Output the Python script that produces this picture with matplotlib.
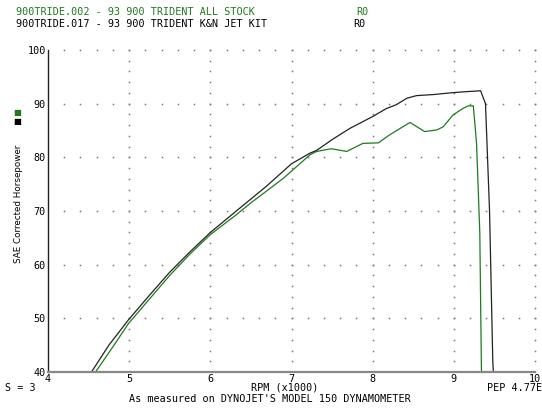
import matplotlib
matplotlib.use("Agg")
import matplotlib.pyplot as plt
import numpy as np

# K&N jet kit run (900TRIDE.017) - black
rpm_kn = [4.54, 4.75, 4.99, 5.25, 5.5, 5.75, 6.0, 6.36, 6.69, 7.0, 7.23,
          7.31, 7.5, 7.72, 8.0, 8.17, 8.29, 8.42, 8.54, 8.75, 8.95, 9.11, 9.33, 9.39, 9.44, 9.48, 9.49]
hp_kn = [40.1, 45.0, 49.7, 54.3, 58.6, 62.4, 66.0, 70.5, 74.6, 78.8, 80.8,
         81.3, 83.3, 85.4, 87.6, 89.1, 89.8, 91.0, 91.5, 91.7, 92.0, 92.2, 92.4, 90.0, 70.0, 42.0, 39.0]

# all stock run (900TRIDE.002) - green
rpm_stock = [4.59, 4.8, 4.99, 5.25, 5.5, 5.75, 6.0, 6.32, 6.49, 6.9, 7.23, 7.31, 7.49, 7.68,
             7.88, 8.07, 8.21, 8.46, 8.64, 8.79, 8.87, 8.99, 9.11, 9.18, 9.24, 9.28, 9.32, 9.34, 9.35]
hp_stock = [40.1, 44.7, 49.0, 53.6, 58.0, 62.0, 65.6, 69.3, 71.4, 76.1, 80.5, 81.1, 81.6, 81.1,
            82.6, 82.7, 84.2, 86.5, 84.8, 85.1, 85.7, 87.9, 89.1, 89.6, 89.6, 82.6, 65.9, 40.4, 39.0]

xticks = [4, 5, 6, 7, 8, 9, 10]
yticks = [40, 50, 60, 70, 80, 90, 100]

GREEN = "#1f7a1f"
mono = "DejaVu Sans Mono"
FS = 7.3

fig = plt.figure(figsize=(5.42, 4.09), dpi=100)
fig.patch.set_facecolor("white")
ax = fig.add_axes([48 / 542, 1 - 372 / 409, 487 / 542, 322 / 409])

# dotted grid (points at intersections only, like the dyno printout)
gx = np.arange(4.2, 10.01, 0.2)
for y in yticks[1:]:
    ax.plot(gx, [y] * len(gx), ls="none", marker="s", ms=1.1, mew=0, color="#777777", clip_on=False)
gy = np.arange(42, 100.1, 2)
for x in xticks[1:]:
    ax.plot([x] * len(gy), gy, ls="none", marker="s", ms=1.1, mew=0, color="#777777", clip_on=False)

ax.plot(rpm_stock, hp_stock, color=GREEN, lw=0.9)
ax.plot(rpm_kn, hp_kn, color="#222222", lw=0.9)

ax.set_xlim(4, 10)
ax.set_ylim(40, 100)
ax.set_xticks(xticks)
ax.set_yticks(yticks)
ax.set_xticklabels([str(t) for t in xticks], fontsize=FS, family=mono)
ax.set_yticklabels([str(t) for t in yticks], fontsize=FS, family=mono)
ax.tick_params(length=0, pad=1.5)
for s in ["top", "right"]:
    ax.spines[s].set_visible(False)
ax.spines["left"].set_color("#222222")
ax.spines["left"].set_linewidth(1.0)
ax.spines["bottom"].set_color("#888888")
ax.spines["bottom"].set_linewidth(1.6)

# header
fig.text(16 / 542, 1 - 12 / 409, "900TRIDE.002 - 93 900 TRIDENT ALL STOCK", color=GREEN,
         fontsize=FS, family=mono, va="center")
fig.text(356 / 542, 1 - 12 / 409, "R0", color=GREEN, fontsize=FS, family=mono, va="center")
fig.text(16 / 542, 1 - 24 / 409, "900TRIDE.017 - 93 900 TRIDENT K&N JET KIT", color="black",
         fontsize=FS, family=mono, va="center")
fig.text(353 / 542, 1 - 24 / 409, "R0", color="black", fontsize=FS, family=mono, va="center")

# y label and legend squares
fig.text(19 / 542, 1 - 204 / 409, "SAE Corrected Horsepower", rotation=90, fontsize=6.3,
         family="DejaVu Sans", ha="center", va="center")
fig.text(17 / 542, 1 - 112.5 / 409, "\u25a0", color=GREEN, fontsize=6, family="DejaVu Sans",
         ha="center", va="center")
fig.text(17 / 542, 1 - 121.5 / 409, "\u25a0", color="black", fontsize=6, family="DejaVu Sans",
         ha="center", va="center")

# footer
fig.text(5 / 542, 1 - 388 / 409, "S = 3", fontsize=FS, family=mono, va="center")
fig.text(285 / 542, 1 - 388 / 409, "RPM (x1000)", fontsize=FS, family=mono, va="center", ha="center")
fig.text(487 / 542, 1 - 388 / 409, "PEP 4.77E", fontsize=FS, family=mono, va="center")
fig.text(270 / 542, 1 - 399 / 409, "As measured on DYNOJET'S MODEL 150 DYNAMOMETER", fontsize=FS,
         family=mono, va="center", ha="center")

fig.savefig("out.png", dpi=100)
